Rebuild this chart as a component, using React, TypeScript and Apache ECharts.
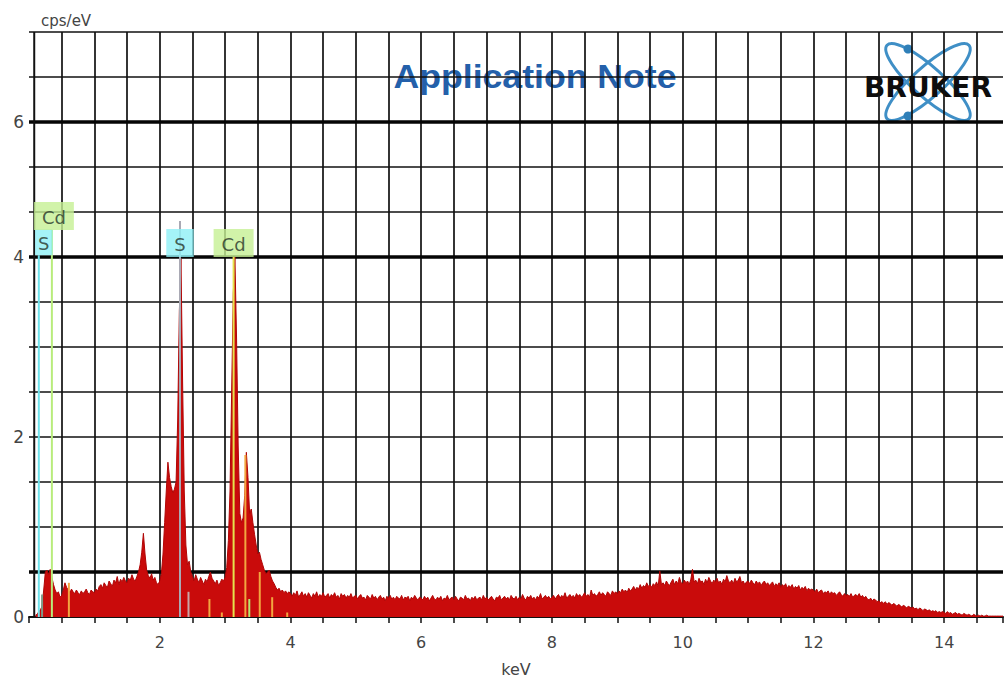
import { useEffect, useRef } from 'react';
import * as echarts from 'echarts';

// ---- spectrum data: channel start / width (keV) and counts (cps/eV) ----
const energyStartKeV = 0.1;
const channelWidthKeV = 0.025;
const counts = [
  // 0.100 - 0.975
  0.02, 0.03, 0.06, 0.08, 0.12, 0.30, 0.50, 0.52, 0.47, 0.53, 0.44, 0.36, 0.30, 0.26, 0.28, 0.22, 0.24, 0.30, 0.38, 0.33,
  0.30, 0.27, 0.31, 0.28, 0.26, 0.30, 0.27, 0.25, 0.29, 0.26, 0.28, 0.31, 0.27, 0.25, 0.30, 0.28,
  // 1.000 - 1.975
  0.27, 0.31, 0.29, 0.34, 0.36, 0.32, 0.38, 0.35, 0.33, 0.40, 0.37, 0.34, 0.41, 0.38, 0.45, 0.36, 0.42, 0.39, 0.44, 0.40,
  0.38, 0.43, 0.41, 0.47, 0.42, 0.40, 0.45, 0.50, 0.58, 0.72, 0.93, 0.70, 0.52, 0.46, 0.43, 0.48, 0.41, 0.44, 0.38, 0.36,
  // 2.000 - 2.975
  0.40, 0.48, 0.70, 1.05, 1.40, 1.72, 1.55, 1.45, 1.38, 1.42, 1.50, 2.20, 3.40, 3.98, 2.60, 1.40, 0.80, 0.58, 0.62, 0.50,
  0.45, 0.40, 0.47, 0.42, 0.38, 0.44, 0.40, 0.36, 0.42, 0.39, 0.45, 0.50, 0.43, 0.40, 0.37, 0.41, 0.35, 0.38, 0.42, 0.40,
  // 3.000 - 3.975
  0.44, 0.55, 0.85, 1.40, 2.50, 3.60, 4.00, 3.10, 1.90, 1.15, 1.05, 1.10, 1.35, 1.83, 1.55, 1.15, 1.20, 1.05, 0.92, 0.80,
  0.70, 0.72, 0.64, 0.58, 0.52, 0.48, 0.50, 0.52, 0.45, 0.40, 0.37, 0.33, 0.30, 0.32, 0.28, 0.30, 0.27, 0.29, 0.26, 0.28,
  // 4.000 - 4.975
  0.26, 0.23, 0.27, 0.24, 0.29, 0.22, 0.25, 0.28, 0.23, 0.26, 0.22, 0.27, 0.24, 0.21, 0.26, 0.23, 0.28, 0.22, 0.25, 0.23,
  0.27, 0.22, 0.24, 0.26, 0.21, 0.25, 0.23, 0.27, 0.22, 0.24, 0.20, 0.26, 0.23, 0.25, 0.21, 0.24, 0.22, 0.26, 0.21, 0.23,
  // 5.000 - 5.975
  0.24, 0.20, 0.23, 0.25, 0.21, 0.22, 0.19, 0.24, 0.22, 0.20, 0.25, 0.21, 0.23, 0.19, 0.22, 0.24, 0.20, 0.22, 0.18, 0.23,
  0.21, 0.24, 0.20, 0.22, 0.19, 0.23, 0.21, 0.20, 0.24, 0.19, 0.22, 0.21, 0.23, 0.18, 0.22, 0.20, 0.24, 0.21, 0.19, 0.22,
  // 6.000 - 6.975
  0.21, 0.19, 0.23, 0.20, 0.22, 0.18, 0.21, 0.24, 0.20, 0.19, 0.22, 0.20, 0.23, 0.18, 0.21, 0.20, 0.24, 0.19, 0.21, 0.22,
  0.19, 0.23, 0.20, 0.18, 0.22, 0.21, 0.19, 0.24, 0.20, 0.21, 0.18, 0.22, 0.20, 0.23, 0.19, 0.21, 0.22, 0.19, 0.24, 0.20,
  // 7.000 - 7.975
  0.22, 0.19, 0.21, 0.23, 0.20, 0.18, 0.22, 0.21, 0.24, 0.19, 0.21, 0.23, 0.20, 0.22, 0.19, 0.24, 0.21, 0.20, 0.23, 0.19,
  0.22, 0.20, 0.25, 0.21, 0.19, 0.23, 0.21, 0.24, 0.20, 0.22, 0.19, 0.23, 0.21, 0.26, 0.20, 0.22, 0.24, 0.21, 0.23, 0.20,
  // 8.000 - 8.975
  0.22, 0.24, 0.20, 0.23, 0.25, 0.21, 0.24, 0.22, 0.27, 0.21, 0.23, 0.25, 0.22, 0.24, 0.21, 0.26, 0.23, 0.25, 0.22, 0.24,
  0.27, 0.23, 0.25, 0.22, 0.30, 0.24, 0.26, 0.23, 0.25, 0.28, 0.24, 0.27, 0.25, 0.23, 0.28, 0.26, 0.24, 0.29, 0.26, 0.28,
  // 9.000 - 9.975
  0.26, 0.29, 0.27, 0.31, 0.28, 0.30, 0.27, 0.32, 0.29, 0.31, 0.34, 0.30, 0.33, 0.31, 0.36, 0.32, 0.35, 0.33, 0.38, 0.34,
  0.36, 0.33, 0.37, 0.35, 0.39, 0.34, 0.51, 0.36, 0.38, 0.35, 0.40, 0.37, 0.35, 0.39, 0.42, 0.36, 0.40, 0.37, 0.44, 0.38,
  // 10.000 - 10.975
  0.37, 0.41, 0.38, 0.40, 0.36, 0.42, 0.53, 0.39, 0.41, 0.37, 0.43, 0.39, 0.40, 0.36, 0.42, 0.38, 0.44, 0.40, 0.37, 0.41,
  0.39, 0.43, 0.38, 0.40, 0.36, 0.42, 0.39, 0.46, 0.40, 0.38, 0.41, 0.37, 0.43, 0.39, 0.41, 0.45, 0.38, 0.40, 0.36, 0.39,
  // 11.000 - 11.975
  0.40, 0.37, 0.41, 0.38, 0.36, 0.40, 0.37, 0.39, 0.35, 0.38, 0.40, 0.36, 0.38, 0.35, 0.37, 0.39, 0.34, 0.37, 0.35, 0.38,
  0.33, 0.36, 0.34, 0.37, 0.32, 0.35, 0.33, 0.36, 0.31, 0.34, 0.32, 0.35, 0.30, 0.33, 0.31, 0.34, 0.29, 0.32, 0.30, 0.31,
  // 12.000 - 12.975
  0.30, 0.28, 0.31, 0.27, 0.29, 0.30, 0.26, 0.28, 0.27, 0.29, 0.25, 0.28, 0.26, 0.27, 0.24, 0.26, 0.28, 0.25, 0.23, 0.26,
  0.24, 0.25, 0.23, 0.26, 0.22, 0.24, 0.25, 0.23, 0.26, 0.22, 0.24, 0.21, 0.23, 0.20, 0.19, 0.21, 0.18, 0.20, 0.19, 0.17,
  // 13.000 - 13.975
  0.18, 0.16, 0.17, 0.15, 0.17, 0.14, 0.16, 0.15, 0.13, 0.15, 0.14, 0.12, 0.14, 0.13, 0.11, 0.13, 0.12, 0.10, 0.12, 0.11,
  0.10, 0.11, 0.09, 0.10, 0.08, 0.10, 0.09, 0.07, 0.09, 0.08, 0.07, 0.08, 0.06, 0.07, 0.06, 0.07, 0.05, 0.06, 0.05, 0.06,
  // 14.000 - 14.900
  0.05, 0.04, 0.06, 0.04, 0.05, 0.03, 0.04, 0.05, 0.03, 0.04, 0.03, 0.02, 0.04, 0.03, 0.02, 0.03, 0.02, 0.01, 0.03, 0.02,
  0.01, 0.02, 0.01, 0.02, 0.01, 0.01, 0.02, 0.01, 0.01, 0.01, 0.01, 0.01, 0.01, 0.01, 0.01, 0.01, 0.01,
];

// ---- element markers ----
const elementNames = ['S', 'Cd', 'S', 'Cd'];
const elementEnergies = [0.15, 0.35, 2.31, 3.13];
const elementLineTops = [4.02, 4.3, 4.4, 4.0];
const elementLabelBases = [4.02, 4.3, 4.0, 4.0];

// minor line markers inside the spectrum
const minorEnergies = [0.2, 0.61, 2.44, 2.76, 2.95, 3.31, 3.37, 3.53, 3.72, 3.95];
const minorHeights = [0.25, 0.38, 0.28, 0.2, 0.05, 1.8, 0.2, 0.5, 0.22, 0.05];
const minorKinds = ['gray', 'orange', 'pink', 'orange', 'orange', 'orange', 'green', 'orange', 'orange', 'orange'];

// ---- axes ----
const xMin = 0;
const xMax = 14.9;
const axisStartKeV = 0.08;
const yMin = 0;
const yMax = 6.5;
const xTickLabels = [2, 4, 6, 8, 10, 12, 14];
const yTickPositions = [0, 2, 4, 5.5];
const yTickTexts = ['0', '2', '4', '6'];
const majorGridValues = [0.5, 4, 5.5];

const FONT = '"DejaVu Sans", Verdana, sans-serif';

const elementBg: Record<string, string> = { S: '#8ff0f6', Cd: '#c6f094' };
const elementLineColors = ['#6fe2ec', '#b8ec7c', '#a9a9b4', '#e6e24c'];
const minorColors: Record<string, string> = {
  gray: '#7f9a88',
  orange: '#f2a640',
  pink: '#c9a6a6',
  green: '#b4ea70',
};

function buildOption() {
  const spectrum = counts.map((c, i) => [
    Number((energyStartKeV + i * channelWidthKeV).toFixed(3)),
    c,
  ]);

  const series: any[] = [];

  majorGridValues.forEach((v) => {
    series.push({
      type: 'line',
      silent: true,
      symbol: 'none',
      z: 2,
      data: [[xMin, v], [xMax, v]],
      lineStyle: { color: '#050505', width: 3.5 },
    });
  });

  series.push({
    type: 'line',
    name: 'spectrum',
    symbol: 'none',
    z: 3,
    data: spectrum,
    lineStyle: { color: '#b00606', width: 1 },
    areaStyle: { color: '#c90b0b', opacity: 1 },
  });

  minorEnergies.forEach((e, i) => {
    series.push({
      type: 'line',
      silent: true,
      symbol: 'none',
      z: 4,
      data: [[e, 0], [e, minorHeights[i]]],
      lineStyle: { color: minorColors[minorKinds[i]], width: 2 },
    });
  });

  elementEnergies.forEach((e, i) => {
    series.push({
      type: 'line',
      silent: true,
      symbol: 'none',
      z: 4,
      data: [[e, 0], [e, elementLineTops[i]]],
      lineStyle: { color: elementLineColors[i], width: 2 },
    });
  });

  // y-axis line
  series.push({
    type: 'line',
    silent: true,
    symbol: 'none',
    z: 5,
    data: [[axisStartKeV, yMin], [axisStartKeV, yMax]],
    lineStyle: { color: '#111', width: 2 },
  });

  series.push({
    type: 'scatter',
    silent: true,
    z: 6,
    symbolSize: 0,
    data: elementEnergies.map((e, i) => ({
      value: [e, elementLabelBases[i]],
      name: elementNames[i],
      label: {
        show: true,
        position: 'top',
        distance: 0,
        formatter: elementNames[i],
        offset: i === 0 ? [5, 0] : i === 1 ? [2, 0] : [0, 0],
        backgroundColor: elementBg[elementNames[i]],
        padding: i === 0 ? [5, 3, 3, 3] : [6, 8, 4, 8],
        fontSize: 18,
        fontFamily: FONT,
        color: '#27352a',
      },
    })),
  });

  return {
    animation: false,
    backgroundColor: '#ffffff',
    grid: { left: 29, right: 1, top: 32, bottom: 67, containLabel: false },
    xAxis: {
      type: 'value',
      min: xMin,
      max: xMax,
      interval: 0.5,
      name: 'keV',
      nameLocation: 'middle',
      nameGap: 44,
      nameTextStyle: { fontSize: 16, color: '#444', fontFamily: FONT },
      axisLine: { show: true, lineStyle: { color: '#111', width: 2 } },
      axisTick: { show: true, length: 6, lineStyle: { color: '#111', width: 1.5 } },
      axisLabel: {
        fontSize: 16,
        color: '#444',
        fontFamily: FONT,
        margin: 17,
        formatter: (v: number) => (xTickLabels.includes(v) ? String(v) : ''),
      },
      splitLine: {
        show: true,
        showMinLine: false,
        showMaxLine: false,
        lineStyle: { color: '#111', width: 1.7 },
      },
    },
    yAxis: {
      type: 'value',
      min: yMin,
      max: yMax,
      interval: 0.5,
      axisLine: { show: false },
      axisTick: { show: false },
      axisLabel: {
        fontSize: 17,
        color: '#444',
        fontFamily: FONT,
        margin: 5,
        formatter: (v: number) => {
          const k = yTickPositions.indexOf(v);
          return k >= 0 ? yTickTexts[k] : '';
        },
      },
      splitLine: { show: true, lineStyle: { color: '#111', width: 1.7 } },
    },
    graphic: [
      {
        type: 'text',
        z: -1,
        x: 535,
        y: 76,
        scaleX: 1.08,
        style: {
          text: 'Application Note',
          fill: '#2460aa',
          font: 'bold 33px "Liberation Sans", Arial, sans-serif',
          align: 'center',
          verticalAlign: 'middle',
        },
      },
      {
        type: 'text',
        left: 41,
        top: 13,
        style: {
          text: 'cps/eV',
          fill: '#444',
          font: '15px ' + FONT,
        },
      },
      {
        type: 'group',
        z: 20,
        children: [
          {
            type: 'rect',
            shape: { x: 862, y: 39, width: 135, height: 85 },
            style: { fill: '#ffffff' },
          },
          {
            type: 'ellipse',
            x: 928,
            y: 82,
            rotation: 0.73,
            shape: { cx: 0, cy: 0, rx: 55, ry: 15 },
            style: { fill: 'none', stroke: '#3f8fc6', lineWidth: 3 },
          },
          {
            type: 'ellipse',
            x: 928,
            y: 82,
            rotation: -0.73,
            shape: { cx: 0, cy: 0, rx: 55, ry: 15 },
            style: { fill: 'none', stroke: '#3f8fc6', lineWidth: 3 },
          },
          {
            type: 'circle',
            shape: { cx: 908, cy: 49, r: 4.5 },
            style: { fill: '#2f7fb8' },
          },
          {
            type: 'circle',
            shape: { cx: 908, cy: 116, r: 4.5 },
            style: { fill: '#2f7fb8' },
          },
          {
            type: 'text',
            x: 928,
            y: 87,
            style: {
              text: 'BRUKER',
              fill: '#0d0d0d',
              font: 'bold 28px "DejaVu Sans", sans-serif',
              align: 'center',
              verticalAlign: 'middle',
            },
          },
        ],
      },
    ],
    series,
  };
}

export default function App() {
  const ref = useRef<HTMLDivElement>(null);
  useEffect(() => {
    document.body.style.margin = '0';
    const chart = echarts.init(ref.current as HTMLDivElement, undefined, { renderer: 'svg' });
    chart.setOption(buildOption() as any);
    return () => chart.dispose();
  }, []);
  return <div ref={ref} style={{ width: 1006, height: 684, background: '#fff' }} />;
}
